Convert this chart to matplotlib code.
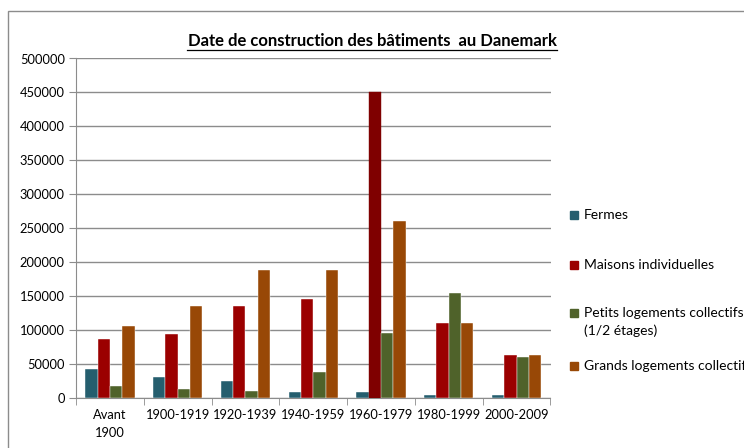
import numpy as np
import matplotlib.pyplot as plt
from matplotlib.patches import Rectangle

plt.rcParams['font.family'] = ['Lato', 'DejaVu Sans']

periodes = ['Avant\n1900', '1900-1919', '1920-1939', '1940-1959',
            '1960-1979', '1980-1999', '2000-2009']
fermes = [43000, 30000, 24000, 8000, 8000, 4000, 4000]
maisons = [87000, 94000, 135000, 145000, 450000, 110000, 63000]
petits = [17000, 13000, 9500, 37500, 96000, 155000, 59500]
grands = [105000, 135000, 188000, 188000, 261000, 110000, 63000]

series = [
    ('Fermes', fermes, '#255e6e'),
    ('Maisons individuelles', maisons, '#9b0000'),
    ('Petits logements collectifs\n(1/2 étages)', petits, '#4f622a'),
    ('Grands logements collectifs', grands, '#984806'),
]

W, H = 744, 448
fig = plt.figure(figsize=(W / 100, H / 100), dpi=100)

# cadre gris du graphique (coupé à droite et en bas)
fig.patches.append(Rectangle((7.5 / W, -0.1), 1.2, 1 - 11 / H + 0.1,
                             transform=fig.transFigure, fill=False,
                             edgecolor='#8c8c8c', linewidth=1.0))

ax = fig.add_axes([76 / W, 1 - 397.7 / H, (550.5 - 76) / W, (397.7 - 58.5) / H])

x = np.arange(len(periodes))
bw = 1 / 5.5
for i, (nom, vals, col) in enumerate(series):
    bars = ax.bar(x + (i - 1.5) * bw, vals, width=bw, color=col,
                  edgecolor='white', linewidth=0.3, label=nom, zorder=3)
    if i == 1:
        bars[4].set_color('#7f0000')

ax.set_xlim(-0.5, len(periodes) - 0.5)
ax.set_ylim(0, 500000)
ax.set_yticks(np.arange(0, 500001, 50000))
ax.yaxis.grid(True, color='#8c8c8c', linewidth=1.0, zorder=0)
ax.tick_params(axis='y', length=5, color='#8c8c8c', labelsize=9.3, pad=3)

ax.set_xticks(x)
ax.set_xticklabels(periodes, fontsize=9.3, linespacing=1.6)
ax.tick_params(axis='x', length=0, pad=8)
ax.set_xticks(np.arange(-0.5, len(periodes)), minor=True)
ax.tick_params(axis='x', which='minor', length=5, color='#8c8c8c')

for s in ['top', 'right']:
    ax.spines[s].set_visible(False)
for s in ['left', 'bottom']:
    ax.spines[s].set_color('#8c8c8c')

fig.text(372 / W, 1 - 41 / H, 'Date de construction des bâtiments  au Danemark',
         ha='center', va='center', fontsize=12, fontweight='bold')
fig.add_artist(plt.Line2D([187 / W, 557 / W], [1 - 50 / H, 1 - 50 / H],
                          color='black', linewidth=0.9))

# légende à droite (texte coupé par le bord comme le cadre)
leg_y = [215, 265, 313, 366]
for (nom, vals, col), yy in zip(series, leg_y):
    fig.patches.append(Rectangle((570 / W, 1 - (yy + 4) / H), 8 / W, 8 / H,
                                 transform=fig.transFigure, color=col))
    fig.text(584 / W, 1 - (yy - 6) / H, nom, ha='left', va='top',
             fontsize=10, linespacing=1.55)

fig.savefig('out.png', dpi=100)
